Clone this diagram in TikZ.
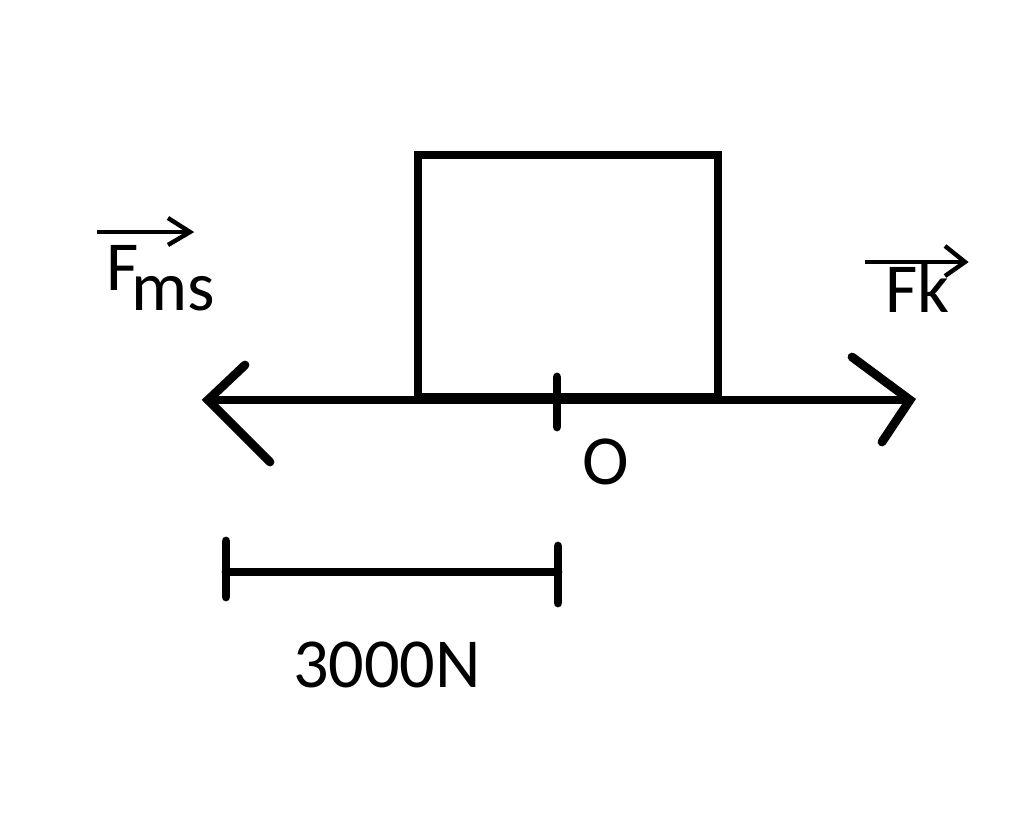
\documentclass[tikz,border=0pt]{standalone}
\usepackage{fontspec}
\setmainfont{Carlito}
\usetikzlibrary{positioning}

\begin{document}
\begin{tikzpicture}[x=0.02cm,y=-0.02cm,
    every node/.style={inner sep=0pt},
    thick line/.style={line width=5pt, line cap=round, line join=miter},
    label text/.style={font=\fontsize{40}{40}\selectfont}]
            % canvas
            \useasboundingbox (0,0) rectangle (1024,835);
            % the block on the ground line
            \node[draw, line width=5pt, minimum width=300*0.02cm, minimum height=242*0.02cm] (block) at (568,276) {};
            \coordinate (left) at (208,400);
            \coordinate (right) at (910,400);
            \draw[thick line] (left) -- (right);
            \draw[thick line] (245,365) -- (left) -- (270,462);
            \draw[thick line] (852,357) -- (right) -- (882,442);
            % origin tick
            \coordinate (origin) at (557,400);
            \draw[thick line] (557,377) -- (557,427);
            \node[label text] (o) at (606,462) {O};
            % scale bar
            \coordinate (scaleL) at (226,572);
            \coordinate (scaleR) at (558,572);
            \draw[thick line] (scaleL) -- (scaleR);
            \draw[thick line] (226,541) -- (226,597);
            \draw[thick line] (558,546) -- (558,603);
            \node[label text] (scale) at (387,665) {3000N};
            % force labels
            \node[label text, anchor=base west] (fms) at (106,290) {F\kern-4pt\raisebox{-0.6ex}{ms}};
            \draw[line width=2.5pt] (97,232) -- (190,232);
            \draw[line width=2.5pt] (168,218) -- (190,232) -- (168,245);
            \node[label text, anchor=base west] (fk) at (885,312) {Fk};
            \draw[line width=2.5pt] (865,262) -- (965,262);
            \draw[line width=2.5pt] (945,246) -- (965,262) -- (945,276);
        \end{tikzpicture}
\end{document}
